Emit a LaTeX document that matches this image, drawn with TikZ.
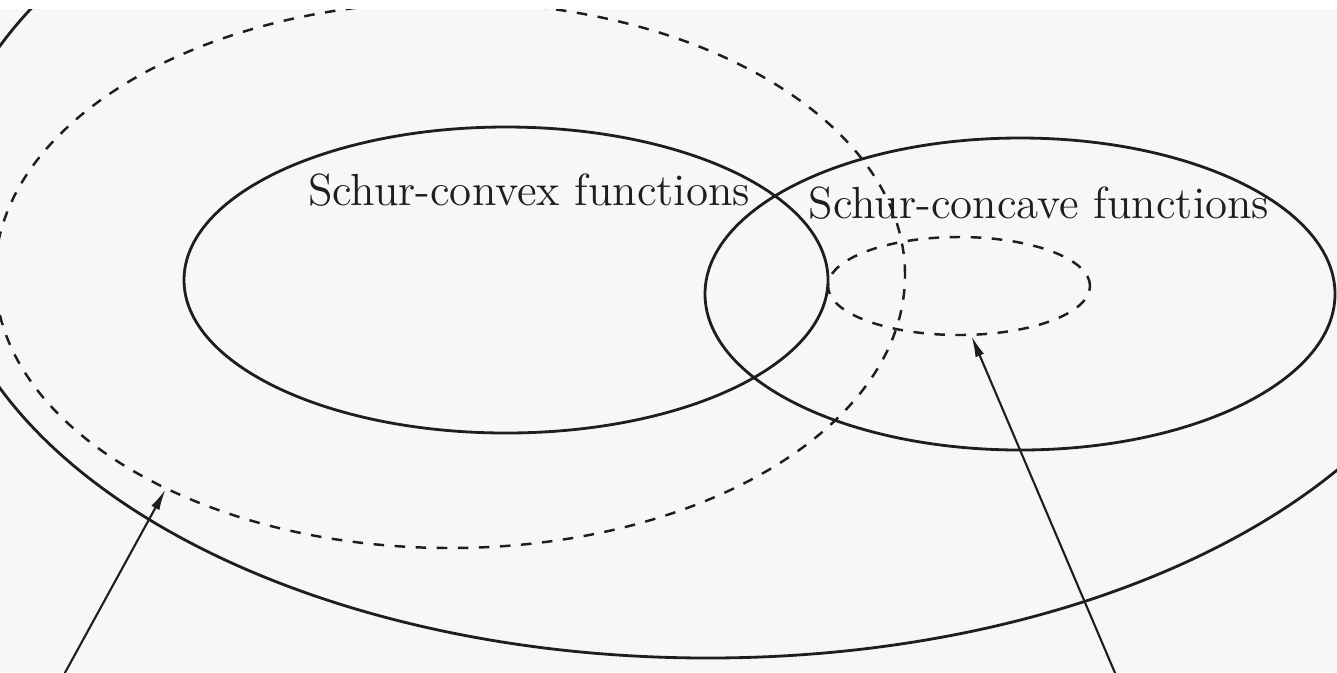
\documentclass[tikz,border=0pt]{standalone}
\usepackage{tikz}
\usetikzlibrary{
    arrows.meta,
    shapes.geometric
}
\definecolor{ink}{RGB}{30,30,30}
\definecolor{paper}{RGB}{247,247,247}
\tikzset{
    line cap=round,
    line join=round,
    setshape/.style={
        ellipse,
        draw=ink,
        line width=0.8pt,
        inner sep=0pt
    },
    dashset/.style={
        setshape,
        dashed,
        line width=0.7pt
    },
    setlabel/.style={
        font=\fontsize{12.8pt}{15pt}\selectfont,
        text=ink
    },
    pointer/.style={
        -{Latex[length=6pt,width=2.6pt]},
        draw=ink,
        line width=0.6pt
    }
}

\begin{document}
\begin{tikzpicture}

% Frame
\useasboundingbox (0,0) rectangle (13.37,-6.72);
\fill[paper] (0,-0.09) rectangle (13.37,-6.72);
\clip (0,-0.09) rectangle (13.37,-6.72);

% Sets
\node[setshape, minimum width=15.36cm, minimum height=8.82cm] (outer) at (7.08,-2.17) {};
\node[dashset, minimum width=9.10cm, minimum height=5.46cm] (bigdash) at (4.50,-2.75) {};
\node[setshape, minimum width=6.44cm, minimum height=3.06cm] (convex) at (5.06,-2.80) {};
\node[setshape, minimum width=6.30cm, minimum height=3.12cm] (concave) at (10.20,-2.94) {};
\node[dashset, minimum width=2.62cm, minimum height=0.98cm] (smalldash) at (9.59,-2.86) {};

% Labels
\node[setlabel] (convexlabel) at (5.29,-1.90) {Schur-convex functions};
\node[setlabel] (concavelabel) at (10.39,-2.03) {Schur-concave functions};

% Pointers
\coordinate (leftfoot) at (0.61,-6.80);
\coordinate (rightfoot) at (11.18,-6.80);
\draw[pointer] (leftfoot) -- (bigdash.217);
\draw[pointer] (rightfoot) -- (smalldash.284);

\end{tikzpicture}
\end{document}
